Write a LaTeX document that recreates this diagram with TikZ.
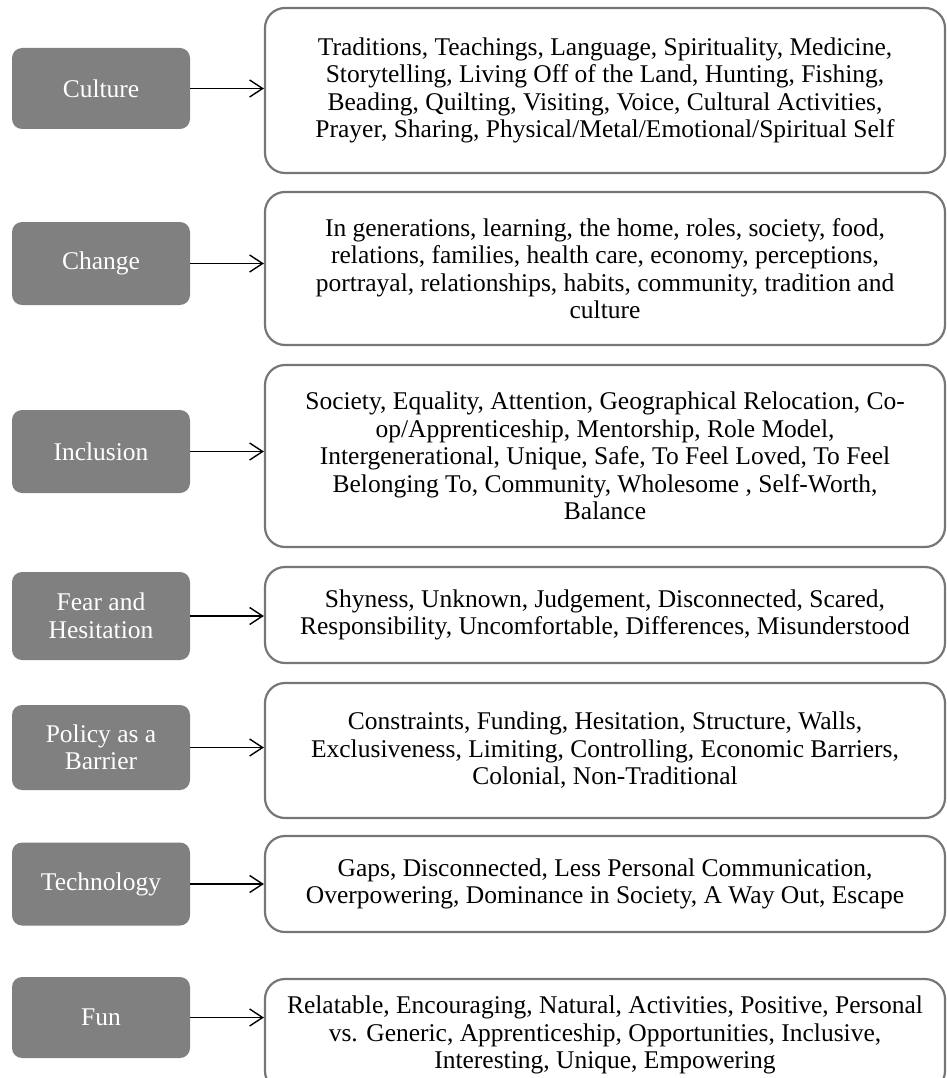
\documentclass[tikz,border=0pt]{standalone}
\usepackage{fontspec}
\setmainfont{Liberation Serif}
\definecolor{themegray}{RGB}{128,128,128}
\definecolor{edgegray}{RGB}{118,118,118}
\usetikzlibrary{arrows.meta}

\begin{document}
\begin{tikzpicture}[x=1pt,y=-1pt,
	font=\fontsize{25.5}{27.5}\selectfont,
	theme/.style={fill=themegray,text=white,rounded corners=10pt,
		minimum width=178pt,inner sep=0pt,align=center},
	items/.style={draw=edgegray,line width=2.2pt,rounded corners=20pt,
		minimum width=680pt,inner sep=0pt,align=center},
	link/.style={line width=1.4pt,-{Straight Barb[length=13pt,width=17pt,line width=1.4pt]}}]
	\useasboundingbox (0,0) rectangle (946,1078);

	\node[theme,minimum height=81pt] (culture) at (101,88.5) {Culture};
	\node[items,minimum height=165pt] (cultureitems) at (605,90.5)
		{Traditions, Teachings, Language, Spirituality, Medicine,\\
		Storytelling, Living Off of the Land, Hunting, Fishing,\\
		Beading, Quilting, Visiting, Voice, Cultural Activities,\\
		Prayer, Sharing, Physical/Metal/Emotional/Spiritual Self};

	\node[theme,minimum height=83pt] (change) at (101,263.5) {Change};
	\node[items,minimum height=153pt] (changeitems) at (605,268.5)
		{In generations, learning, the home, roles, society, food,\\
		relations, families, health care, economy, perceptions,\\
		portrayal, relationships, habits, community, tradition and\\
		culture};

	\node[theme,minimum height=83pt] (inclusion) at (101,451.5) {Inclusion};
	\node[items,minimum height=182pt] (inclusionitems) at (605,456)
		{Society, Equality, Attention, Geographical Relocation, Co-\\
		op/Apprenticeship, Mentorship, Role Model,\\
		Intergenerational, Unique, Safe, To Feel Loved, To Feel\\
		Belonging To, Community, Wholesome , Self-Worth,\\
		Balance};

	\node[theme,minimum height=88pt] (fear) at (101,616) {Fear and\\Hesitation};
	\node[items,minimum height=96pt] (fearitems) at (605,615)
		{Shyness, Unknown, Judgement, Disconnected, Scared,\\
		Responsibility, Uncomfortable, Differences, Misunderstood};

	\node[theme,minimum height=85pt] (policy) at (101,747.5) {Policy as a\\Barrier};
	\node[items,minimum height=135pt] (policyitems) at (605,750.5)
		{Constraints, Funding, Hesitation, Structure, Walls,\\
		Exclusiveness, Limiting, Controlling, Economic Barriers,\\
		Colonial, Non-Traditional};

	\node[theme,minimum height=83pt] (technology) at (101,884) {Technology};
	\node[items,minimum height=96pt] (technologyitems) at (605,884)
		{Gaps, Disconnected, Less Personal Communication,\\
		Overpowering, Dominance in Society, A Way Out, Escape};

	\node[theme,minimum height=81pt] (fun) at (101,1017.5) {Fun};
	\node[items,minimum height=112pt] (funitems) at (605,1035)
		{Relatable, Encouraging, Natural, Activities, Positive, Personal\\
		vs. Generic, Apprenticeship, Opportunities, Inclusive,\\
		Interesting, Unique, Empowering};

	\foreach \t in {culture,change,inclusion,fear,policy,technology,fun}
		\draw[link] (\t.east) -- (\t.east -| \t items.west);
\end{tikzpicture}
\end{document}
